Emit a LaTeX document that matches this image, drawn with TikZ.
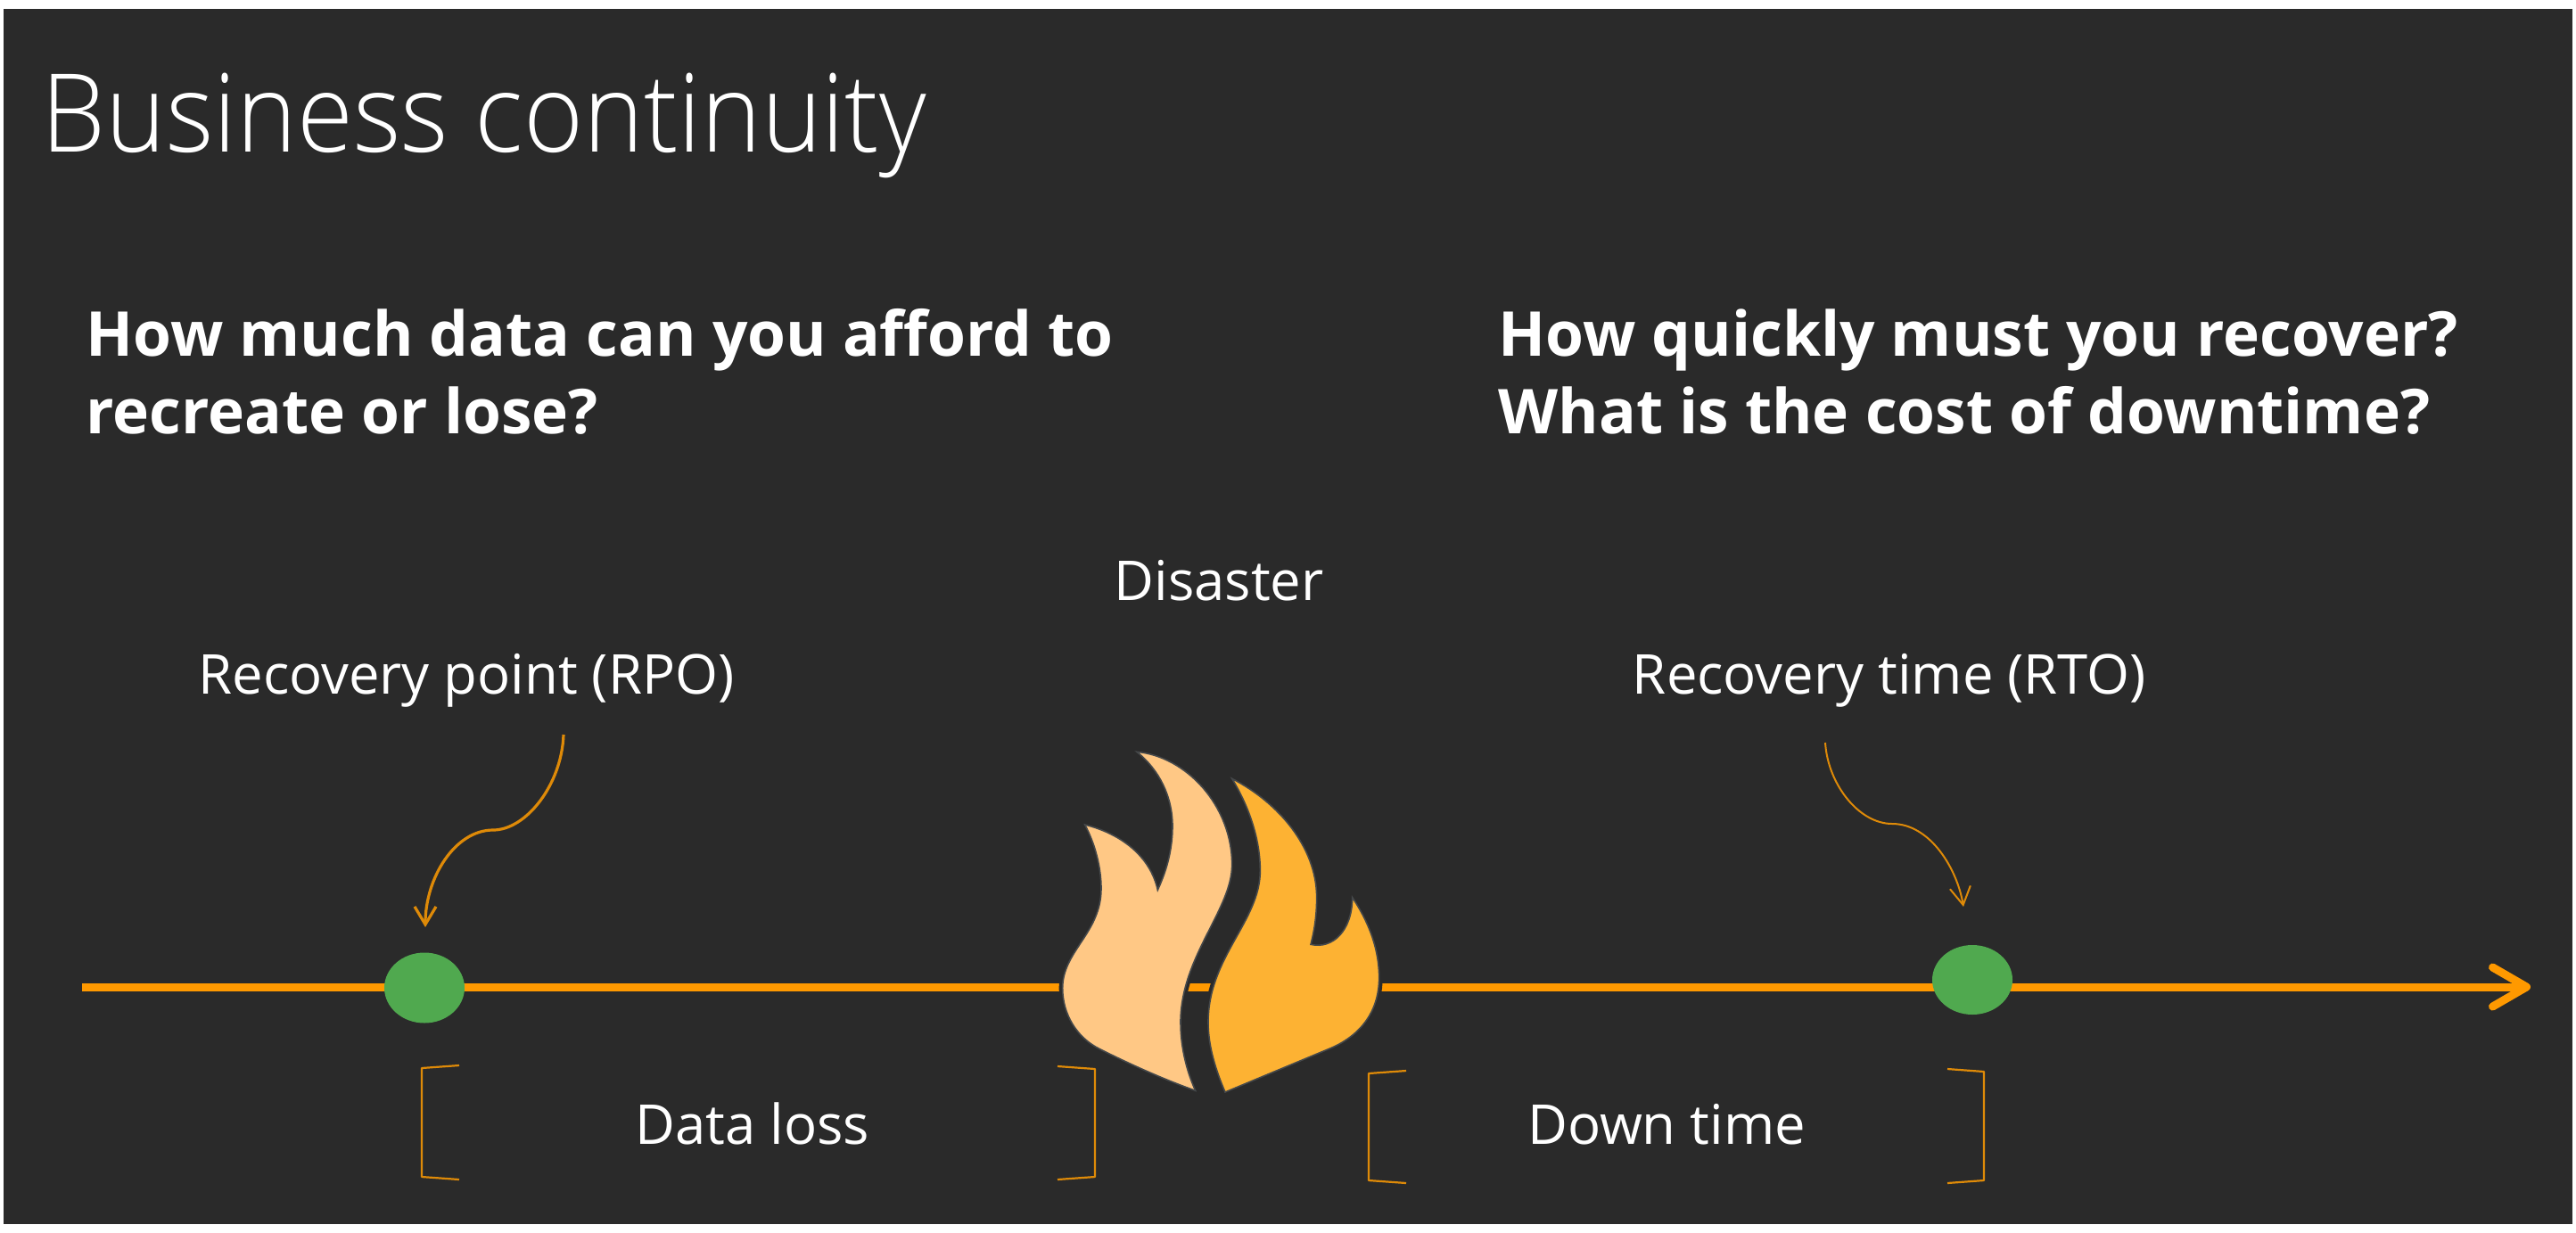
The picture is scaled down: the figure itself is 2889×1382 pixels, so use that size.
\documentclass[tikz,border=0pt]{standalone}
\usepackage{fontspec}
\usetikzlibrary{arrows.meta,shapes.geometric}
\setmainfont{Open Sans}
\newfontfamily\lightfont[FakeStretch=0.94]{Open Sans Light}
\definecolor{bgdark}{HTML}{2A2A2A}
\definecolor{amber}{HTML}{FF9900}
\definecolor{thinamber}{HTML}{DE8A08}
\definecolor{dotgreen}{HTML}{50A94F}
\definecolor{flamepale}{HTML}{FFC885}
\definecolor{flamedeep}{HTML}{FDB233}
\definecolor{flameedge}{HTML}{45484A}
\tikzset{
  x=0.25pt,y=-0.25pt,
  titletext/.style={anchor=base west,inner sep=0pt,text=white,font=\lightfont\fontsize{30.5}{36}\selectfont},
  headtext/.style={anchor=base west,inner sep=0pt,text=white,font=\bfseries\fontsize{17.35}{22}\selectfont},
  labeltext/.style={anchor=base,inner sep=0pt,text=white,font=\fontsize{15.4}{18}\selectfont},
  dot/.style={ellipse,fill=dotgreen,inner sep=0pt},
  timeline/.style={draw=amber,line width=2.25pt,-{Straight Barb[length=9.5pt,width=11pt,round,line width=2.25pt]}},
  calloutA/.style={draw=thinamber,line width=0.8pt,-{Straight Barb[length=5pt,width=6pt,line width=0.8pt]}},
  calloutB/.style={draw=thinamber,line width=0.5pt,-{Straight Barb[length=5pt,width=5.8pt,line width=0.5pt]}},
  bracketline/.style={draw=thinamber,line width=0.55pt,line join=round},
  flamehalo/.style={draw=bgdark,line width=2pt,miter limit=20},
  flamepath/.style={draw=flameedge,line width=0.4pt,miter limit=20},
}
\begin{document}
\begin{tikzpicture}
\useasboundingbox (0,0) rectangle (2889,1382);
\fill[white] (0,0) rectangle (2889,1382);
\fill[bgdark] (4,10) rectangle (2885,1373);

\node[titletext] (title) at (46,170) {Business continuity};
\node[headtext] (qa) at (96,399) {How much data can you afford to};
\node[headtext] (qb) at (96,486) {recreate or lose?};
\node[headtext] (qc) at (1680,399) {How quickly must you recover?};
\node[headtext] (qd) at (1680,486) {What is the cost of downtime?};
\node[labeltext] (disaster) at (1367,673) {Disaster};
\node[labeltext] (rpo) at (523,778) {Recovery point (RPO)};
\node[labeltext] (rto) at (2119,778) {Recovery time (RTO)};
\node[labeltext] (loss) at (844,1283) {Data loss};
\node[labeltext] (down) at (1869,1283) {Down time};

\coordinate (lineL) at (92,1107);
\coordinate (lineR) at (2838,1107);
\draw[timeline] (lineL) -- (lineR);

\node[dot,minimum width=22.5pt,minimum height=19.75pt] (pointA) at (476,1108) {};
\node[dot,minimum width=22.5pt,minimum height=19.5pt] (pointB) at (2212,1099) {};

\coordinate (rpoS) at (632,824);
\coordinate (rpoM) at (553,931);
\coordinate (rpoE) at (477,1040);
\draw[calloutA] (rpoS) .. controls (630,880) and (590,931) .. (rpoM) .. controls (510,931) and (477,985) .. (rpoE);
\coordinate (rtoS) at (2047,833);
\coordinate (rtoM) at (2122,924);
\coordinate (rtoE) at (2202,1017);
\draw[calloutB] (rtoS) .. controls (2050,880) and (2085,924) .. (rtoM) .. controls (2165,924) and (2195,975) .. (rtoE);

\coordinate (b1a) at (515,1195); \coordinate (b1b) at (473,1198);
\coordinate (b1c) at (473,1320); \coordinate (b1d) at (515,1323);
\draw[bracketline] (b1a) -- (b1b) -- (b1c) -- (b1d);
\coordinate (b2a) at (1186,1196); \coordinate (b2b) at (1228,1199);
\coordinate (b2c) at (1228,1320); \coordinate (b2d) at (1186,1323);
\draw[bracketline] (b2a) -- (b2b) -- (b2c) -- (b2d);
\coordinate (b3a) at (1577,1201); \coordinate (b3b) at (1535,1204);
\coordinate (b3c) at (1535,1324); \coordinate (b3d) at (1577,1327);
\draw[bracketline] (b3a) -- (b3b) -- (b3c) -- (b3d);
\coordinate (b4a) at (2184,1199); \coordinate (b4b) at (2225,1202);
\coordinate (b4c) at (2225,1324); \coordinate (b4d) at (2184,1327);
\draw[bracketline] (b4a) -- (b4b) -- (b4c) -- (b4d);

\begin{scope}[shift={(1100,780)},x=0.08333pt,y=-0.08333pt]
\def\paleflame{(525,190) .. controls (690,205) and (845,370) .. (845,570)
 .. controls (845,720) and (672,880) .. (672,1100)
 .. controls (672,1190) and (695,1270) .. (722,1330)
 .. controls (610,1290) and (500,1240) .. (400,1190)
 .. controls (320,1150) and (275,1070) .. (275,985)
 .. controls (275,860) and (405,800) .. (405,650)
 .. controls (405,580) and (385,500) .. (350,435)
 .. controls (470,465) and (570,540) .. (595,655)
 .. controls (625,590) and (645,520) .. (645,440)
 .. controls (645,340) and (600,250) .. (525,190) -- cycle}
\def\deepflame{(845,280) .. controls (1000,360) and (1130,510) .. (1130,680)
 .. controls (1130,730) and (1125,780) .. (1110,838)
 .. controls (1185,855) and (1250,790) .. (1250,680)
 .. controls (1310,770) and (1340,860) .. (1340,950)
 .. controls (1340,1070) and (1270,1150) .. (1170,1190)
 -- (822,1335)
 .. controls (790,1260) and (765,1180) .. (765,1100)
 .. controls (765,880) and (940,760) .. (940,590)
 .. controls (940,480) and (900,370) .. (845,280) -- cycle}
\draw[flamehalo] \paleflame;
\draw[flamehalo] \deepflame;
\draw[flamepath,fill=flamepale] \paleflame;
\draw[flamepath,fill=flamedeep] \deepflame;
\end{scope}
\end{tikzpicture}
\end{document}
